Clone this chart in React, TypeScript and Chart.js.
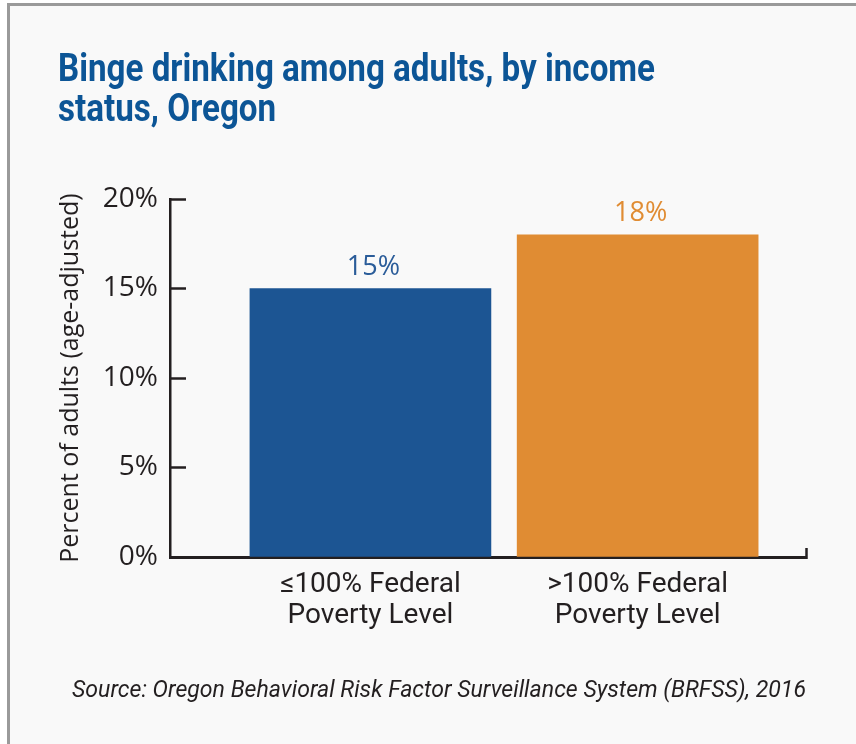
import React, { useEffect, useRef } from "react";
import { Chart, registerables } from "chart.js";

Chart.register(...registerables);

const titleLines = ["Binge drinking among adults, by income", "status, Oregon"];
const categories = [
  ["\u2264100% Federal", "Poverty Level"],
  [">100% Federal", "Poverty Level"],
];
const categoryPositions = [1, 2];
const values = [15, 18];
const barColors = ["#1c5593", "#e08c33"];
const valueLabelColors = ["#2a5c99", "#e08c33"];
const yTicks = [0, 5, 10, 15, 20];
const yTitle = "Percent of adults (age-adjusted)";
const source = "Source: Oregon Behavioral Risk Factor Surveillance System (BRFSS), 2016";

const X_MIN = 0.25;
const X_MAX = 2.63;
const AXIS = "#231f20";
const HELV = "Roboto, 'Liberation Sans', sans-serif";
const MYRIAD = "'Open Sans', 'Noto Sans', sans-serif";

const valueLabelPlugin = {
  id: "valueLabels",
  afterDatasetsDraw(chart: any) {
    const ctx = chart.ctx;
    const meta = chart.getDatasetMeta(0);
    ctx.save();
    ctx.font = `400 27px ${MYRIAD}`;
    ctx.textAlign = "center";
    ctx.textBaseline = "alphabetic";
    meta.data.forEach((bar: any, i: number) => {
      ctx.fillStyle = valueLabelColors[i];
      ctx.fillText(`${values[i]}%`, bar.x + 3, bar.y - 14);
    });
    ctx.restore();
  },
};

function FitLines({ lines, width, style }: { lines: string[]; width: number; style: React.CSSProperties }) {
  const ref = useRef<HTMLDivElement | null>(null);
  useEffect(() => {
    const el = ref.current!;
    const spans = Array.from(el.querySelectorAll("span")) as HTMLElement[];
    const w = spans[0].getBoundingClientRect().width;
    el.style.transform = `scaleX(${width / w})`;
  }, [width]);
  return (
    <div ref={ref} style={{ ...style, position: "absolute", transformOrigin: "0 0", whiteSpace: "nowrap" }}>
      {lines.map((l, i) => (
        <div key={i}>
          <span>{l}</span>
        </div>
      ))}
    </div>
  );
}

export default function App() {
  const ref = useRef<HTMLCanvasElement | null>(null);

  useEffect(() => {
    document.body.style.margin = "0";
    const canvas = ref.current!;
    const chart = new Chart(canvas, {
      type: "bar",
      data: {
        datasets: [
          {
            data: values.map((v, i) => ({ x: categoryPositions[i], y: v })),
            backgroundColor: barColors,
            barThickness: 241,
            borderWidth: 0,
          },
        ],
      },
      options: {
        responsive: false,
        animation: false,
        events: [],
        layout: { padding: { top: 199, left: 50, right: 50, bottom: 87 } },
        plugins: {
          legend: { display: false },
          tooltip: { enabled: false },
          title: { display: false },
        },
        scales: {
          x: {
            type: "linear",
            min: X_MIN,
            max: X_MAX,
            offset: false,
            afterFit: (s: any) => {
              s.height = 100;
            },
            afterBuildTicks: (s: any) => {
              s.ticks = [...categoryPositions.map((v) => ({ value: v })), { value: X_MAX }];
            },
            ticks: {
              autoSkip: false,
              maxRotation: 0,
              padding: 21,
              color: AXIS,
              font: { family: HELV, size: 28, lineHeight: 1.13 },
              callback: (v: any) => {
                const i = categoryPositions.indexOf(v);
                return i >= 0 ? categories[i] : "";
              },
            },
            grid: {
              offset: false,
              drawOnChartArea: false,
              tickLength: -9,
              tickWidth: 2.5,
              color: (c: any) => (c.tick && c.tick.value === X_MAX ? AXIS : "rgba(0,0,0,0)"),
            },
            border: { display: true, color: AXIS, width: 3 },
          },
          y: {
            min: 0,
            max: 20,
            afterFit: (s: any) => {
              s.width = 120;
            },
            afterBuildTicks: (s: any) => {
              s.ticks = yTicks.map((v) => ({ value: v }));
            },
            ticks: {
              padding: 28,
              color: AXIS,
              font: { family: MYRIAD, size: 28 },
              callback: (v: any) => `${v}%`,
            },
            grid: {
              drawOnChartArea: false,
              tickLength: -16,
              tickWidth: 2.5,
              color: AXIS,
            },
            border: { display: true, color: AXIS, width: 2.5 },
            title: {
              display: true,
              text: yTitle,
              color: AXIS,
              font: { family: MYRIAD, size: 25 },
              padding: { top: 6, bottom: 0 },
            },
          },
        },
      },
      plugins: [valueLabelPlugin],
    } as any);
    return () => chart.destroy();
  }, []);

  return (
    <div style={{ position: "relative", width: 856, height: 744, background: "#ffffff", overflow: "hidden" }}>
      <div
        style={{
          position: "absolute",
          left: 7,
          top: 3,
          width: 847,
          height: 738,
          borderLeft: "3px solid #9a9a9a",
          borderTop: "3px solid #9a9a9a",
          borderBottom: "3px solid #9a9a9a",
          borderRight: "1px solid #c8c8c8",
          background: "#f9f9f9",
        }}
      />
      <canvas ref={ref} width={856} height={744} style={{ position: "absolute", left: 0, top: 0 }} />
      <FitLines
        lines={titleLines}
        width={597}
        style={{
          left: 58,
          top: 47.6,
          color: "#0c5596",
          fontFamily: HELV,
          fontWeight: 700,
          fontSize: 38,
          lineHeight: "40.7px",
        }}
      />
      <FitLines
        lines={[source]}
        width={734}
        style={{
          left: 72,
          top: 675.5,
          color: AXIS,
          fontFamily: HELV,
          fontStyle: "italic",
          fontSize: 23,
          lineHeight: "27px",
        }}
      />
    </div>
  );
}
